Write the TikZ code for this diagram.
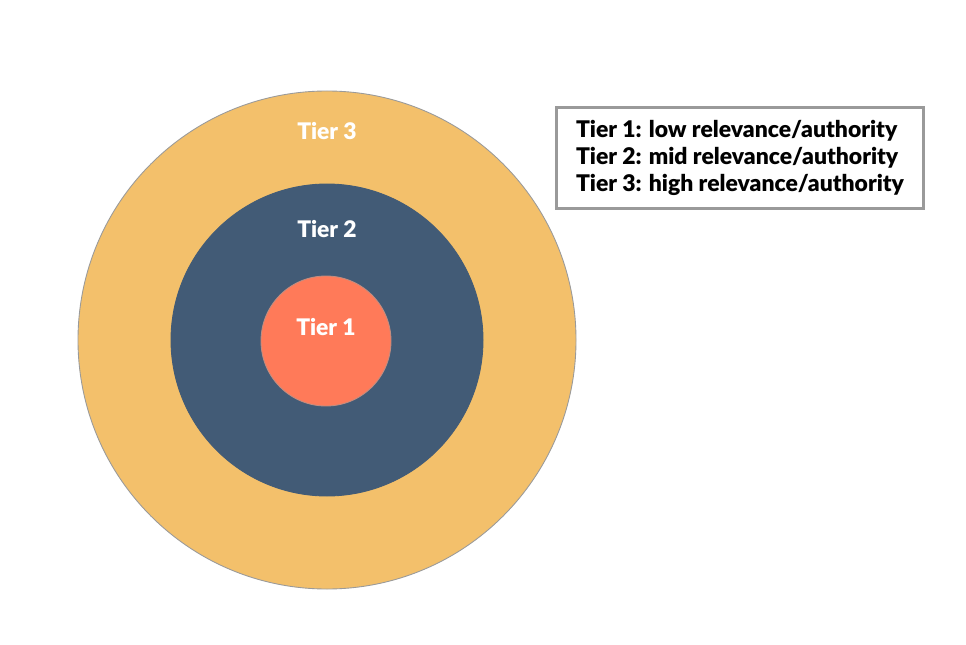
\documentclass[tikz,border=0pt]{standalone}
\usepackage{fontspec}
\setmainfont{Lato}[BoldFont={Lato Black}]
\usepackage{xcolor}
\usetikzlibrary{calc,positioning}

\definecolor{tierYellow}{HTML}{F3C06B}
\definecolor{tierBlue}{HTML}{425B76}
\definecolor{tierCoral}{HTML}{FF7A59}
\definecolor{rimGray}{HTML}{9A9A9A}

\tikzset{
  ring/.style={circle, inner sep=0pt, draw=rimGray, line width=0.5pt},
  tierlabel/.style={text=white, font=\bfseries\fontsize{13}{15}\selectfont},
  legendbox/.style={draw=rimGray, line width=1.6pt, fill=white, align=left,
    inner xsep=11pt, inner ysep=7pt, font=\bfseries\fontsize{13.05}{15.5}\selectfont}
}

\begin{document}
\begin{tikzpicture}[x=0.02cm,y=-0.02cm]

\useasboundingbox (0,0) rectangle (966,645);

% Draw tiers
\node[ring, fill=tierYellow, minimum size=498*0.02cm] (tier3) at (327,340) {};
\node[ring, fill=tierBlue, draw=tierBlue, minimum size=312*0.02cm] (tier2) at (327,340) {};
\node[ring, fill=tierCoral, draw=rimGray!60!tierCoral, minimum size=130*0.02cm] (tier1) at (326,341) {};

% Tier names
\node[tierlabel, below=23pt of tier3.north, anchor=center] (name3) {Tier 3};
\node[tierlabel, below=26pt of tier2.north, anchor=center] (name2) {Tier 2};
\node[tierlabel, above=8pt of tier1.center, anchor=center] (name1) {Tier 1};

% Legend
\node[legendbox] (legend) at (740,158) {Tier 1: low relevance/authority\\
Tier 2: mid relevance/authority\\
Tier 3: high relevance/authority};

\end{tikzpicture}
\end{document}
